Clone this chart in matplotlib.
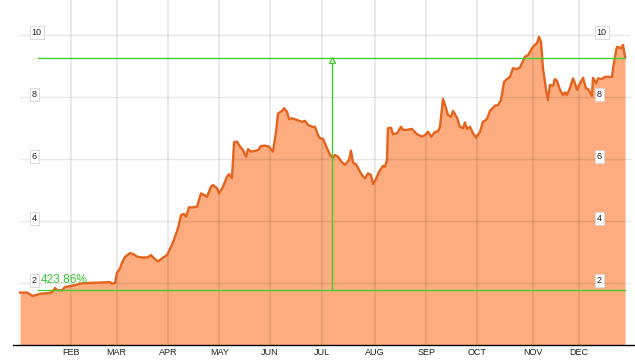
import matplotlib
matplotlib.use("Agg")
import matplotlib.pyplot as plt

plt.rcParams['font.family'] = ['Liberation Sans', 'DejaVu Sans']

# ---- data (x = trading-day index within the year, value) ----
days = [0, 2.9, 5.4, 8.3, 12.5, 13.75, 14.6, 15.4, 17.5, 18.75, 21.7, 25.8, 31.25, 35.4, 37.5, 38.3, 39.6,
        40.4, 41.7, 42.5, 43.75, 45.8, 47.1, 48.75, 51.25, 53.3, 54.6, 55.4, 57.5, 59.2, 61.25, 63.3, 64.6,
        65.8, 67.1, 68.3, 69.2, 70.4, 72.1, 73.75, 75.4, 76.7, 77.9, 79.6, 80.4, 82.1, 82.9, 84.6, 86.25,
        87.1, 88.3, 89.2, 90.4, 91.7, 92.9, 94.2, 95, 96.25, 97.9, 99.2, 100.4, 102.1, 103.75, 105.4, 106.7,
        107.5, 109.2, 110, 111.25, 112.1, 113.3, 115.4, 117.5, 118.75, 120, 121.7, 122.9, 124.2, 125,
        126.25, 127.9, 129.2, 130.4, 131.25, 132.5, 134.2, 135.4, 136.25, 137.1, 137.9, 138.75, 140, 141.25,
        142.5, 143.75, 145, 146.25, 147.1, 148.3, 149.6, 151.25, 152.1, 152.9, 153.3, 154.6, 155.4, 157.1,
        158.75, 159.6, 161.25, 163.3, 165.4, 167.5, 168.75, 170, 171.25, 172.9, 174.2, 175, 176.25, 177.1,
        178.3, 179.6, 180.4, 182.1, 183.3, 184.6, 185.4, 186.25, 187.5, 188.75, 190, 191.7, 192.9, 194.6,
        195.8, 197.9, 199.2, 200.4, 201.7, 202.9, 204.2, 205.4, 207.1, 208.3, 209.6, 210.4, 211.7, 213.3,
        214.6, 215.4, 216.25, 217.1, 217.9, 219.2, 220, 220.8, 222.1, 222.9, 223.75, 225, 226.25, 227.1,
        227.9, 229.2, 230.4, 231.25, 232.1, 233.3, 234.6, 235.8, 236.7, 238.3, 238.75, 240, 240.8, 242.5,
        243.75, 246.7, 247.1, 248.3, 248.75, 250.4, 251.25, 252.1]
values = [1.69, 1.69, 1.58, 1.65, 1.68, 1.74, 1.84, 1.77, 1.77, 1.87, 1.91, 1.99, 2.01, 2.02, 2.03, 1.98, 2.00,
          2.32, 2.48, 2.65, 2.84, 2.96, 2.94, 2.85, 2.82, 2.83, 2.90, 2.83, 2.69, 2.80, 2.90, 3.23, 3.49,
          3.76, 4.19, 4.23, 4.14, 4.44, 4.44, 4.46, 4.89, 4.84, 4.78, 5.11, 5.16, 5.06, 4.89, 5.11, 5.43,
          5.51, 5.38, 6.54, 6.56, 6.40, 6.29, 6.07, 6.32, 6.24, 6.26, 6.29, 6.42, 6.43, 6.40, 6.24, 6.88,
          7.47, 7.55, 7.64, 7.53, 7.29, 7.31, 7.26, 7.20, 7.23, 7.10, 7.04, 7.04, 6.77, 6.67,
          6.65, 6.35, 6.13, 6.04, 6.13, 6.07, 5.89, 5.81, 5.89, 5.97, 6.27, 5.89, 5.83, 5.65,
          5.48, 5.38, 5.54, 5.48, 5.19, 5.35, 5.59, 5.78, 5.75, 5.97, 6.99, 7.01, 6.80, 6.83,
          7.04, 6.94, 6.94, 6.97, 6.80, 6.72, 6.77, 6.88, 6.72, 6.87, 6.90, 7.04, 7.94, 7.74,
          7.42, 7.36, 7.55, 7.33, 7.04, 6.99, 7.18, 6.97, 7.04, 6.83, 6.69, 6.88, 7.20, 7.29,
          7.55, 7.72, 7.74, 7.90, 8.49, 8.58, 8.65, 8.93, 8.90, 8.95, 9.16, 9.30, 9.35, 9.57,
          9.69, 9.73, 9.94, 9.77, 8.93, 8.23, 7.90, 8.39, 8.36, 8.58, 8.52, 8.23, 8.06, 8.15,
          8.06, 8.30, 8.60, 8.44, 8.23, 8.44, 8.62, 8.28, 8.26, 8.04, 8.62, 8.44, 8.60, 8.58,
          8.65, 8.65, 8.93, 9.46, 9.62, 9.57, 9.68, 9.29]

month_labels = ["FEB", "MAR", "APR", "MAY", "JUN", "JUL", "AUG", "SEP", "OCT", "NOV", "DEC"]
month_starts = [21.1, 40.3, 61.8, 83.0, 104.2, 125.7, 147.9, 169.2, 190.5, 213.9, 233.0]
y_ticks = [2, 4, 6, 8, 10]

low_value = 1.766
gain_pct = 423.86
high_value = low_value * (1 + gain_pct / 100)
marker_day = 130.1
range_start_day = 7.6

# ---- styling ----
line_color = "#e5641d"
fill_color = "#fcac7e"
green = "#44cc33"
grid_color = "#000000"

fig = plt.figure(figsize=(6.35, 3.6), dpi=100)
ax = fig.add_axes([13 / 635, 15 / 360, 622 / 635, 345 / 360])
ax.set_xlim(-2.917, 256.25)
ax.set_ylim(0, 11.129)

for s in ["top", "left", "right"]:
    ax.spines[s].set_visible(False)
ax.spines["bottom"].set_color("black")
ax.spines["bottom"].set_linewidth(1.0)

ax.fill_between(days, values, 0, color=fill_color, lw=0, zorder=1)
ax.plot(days, values, color=line_color, lw=1.7, zorder=3, solid_joinstyle="round")

# gridlines
for yv in y_ticks:
    ax.plot([0, 254.2], [yv, yv], color=grid_color, alpha=0.09, lw=1.0, zorder=2)
for xv in month_starts:
    ax.axvline(xv, color=grid_color, alpha=0.08, lw=1.5, zorder=2)

# range markers
ax.plot([range_start_day, days[-1]], [low_value, low_value], color=green, lw=1.0, zorder=4)
ax.plot([range_start_day, days[-1]], [high_value, high_value], color=green, lw=1.0, zorder=4)
ax.plot([marker_day, marker_day], [low_value, high_value], color=green, lw=1.0, zorder=4)
ax.plot([marker_day], [high_value - 0.05], marker="^", ms=5, mfc="#eaffea", mec=green, mew=0.9, zorder=5)
ax.text(8.6, 2.10, f"{gain_pct:.2f}%", color="#33c433", fontsize=8.6, ha="left", va="center", zorder=6)

# y tick labels in boxes, left and right
for yv in y_ticks:
    for xd in (4.9, 240.3):
        ax.text(xd, yv + 0.07, str(yv), fontsize=6.5, ha="left", va="center", color="#222222", zorder=7,
                bbox=dict(boxstyle="square,pad=0.22", fc="white", ec="#d5d5d5", lw=0.6))

ax.set_yticks([])
ax.set_xticks(month_starts)
ax.set_xticklabels(month_labels, fontsize=6.5, color="#222222")
ax.tick_params(axis="x", length=0, pad=2.5)

fig.savefig("out.png", dpi=100)
